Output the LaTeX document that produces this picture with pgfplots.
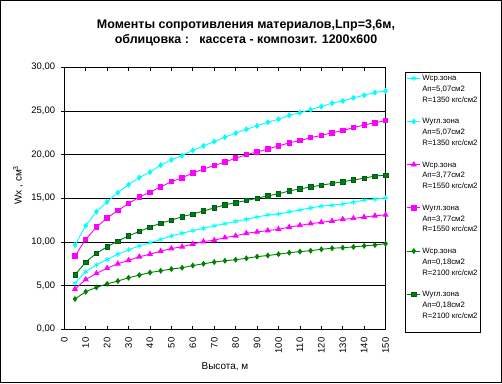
\documentclass[border=0pt]{standalone}
\usepackage{pgfplots}
\pgfplotsset{compat=1.18}
\usepackage{fontspec}
\setmainfont{Liberation Sans}
\definecolor{xcyan}{RGB}{0,255,255}
\definecolor{xmag}{RGB}{255,0,255}
\definecolor{xgreen}{RGB}{0,128,0}
\definecolor{xdkgreen}{RGB}{0,90,40}
\newcommand{\extra}[1]{\addlegendimage{empty legend}\addlegendentry{#1}}
\begin{document}
\begin{tikzpicture}
\useasboundingbox (0,0) rectangle (502bp,384bp);
\draw[black, line width=0.8bp] (0.8bp,1.5bp) rectangle (501.2bp,383.2bp);
\node[align=center, font=\fontsize{12.5}{15.7}\selectfont\bfseries] at (246bp,351bp)
  {Моменты сопротивления материалов,Lпр=3,6м,\\облицовка :\ \ \ кассета - композит. 1200х600};
\begin{axis}[
  at={(64.3bp,54.7bp)}, anchor=south west,
  scale only axis, width=321.3bp, height=262bp,
  xmin=0, xmax=150, ymin=0, ymax=30,
  xtick={0,10,...,150}, ytick={0,5,...,30},
  tick align=inside, major tick length=3.5bp,
  y tick style={xshift=-3.5bp},
  tick style={black, line width=0.75bp},
  axis line style={black, line width=0.75bp},
  ymajorgrids, major grid style={black, line width=0.75bp},
  /pgf/number format/assume math mode=true,
  yticklabel={\pgfmathprintnumber[fixed, fixed zerofill, precision=2, use comma]{\tick}},
  ticklabel style={font=\fontsize{9.5}{11}\selectfont},
  yticklabel style={inner sep=0pt, xshift=-9bp},
  xticklabel style={inner sep=0pt, yshift=-8bp, rotate=90, anchor=east},
  xlabel={Высота, м},
  xlabel style={font=\fontsize{10}{12}\selectfont, at={(axis description cs:0.5,0)}, anchor=center, yshift=-37bp},
  ylabel={Wx , см\textsuperscript{3}},
  ylabel style={font=\fontsize{10}{12}\selectfont, at={(axis description cs:-0.144,0.55)}, anchor=center},
  legend style={at={(1.0604,0.982)}, anchor=north west, draw=black, line width=0.75bp, fill=white,
    font=\fontsize{7.8}{9}\selectfont, inner sep=1.5bp, cells={anchor=west},
    nodes={inner ysep=0pt, inner xsep=1.5bp, text height=6.8bp, text depth=2bp}, row sep=2bp},
  legend image code/.code={\draw[mark repeat=2,mark phase=2] plot coordinates {(0bp,0bp) (6.5bp,0bp) (13bp,0bp)};},
  every axis plot/.append style={line width=0.9bp},
]
% Wsr 5.07
\addplot[xcyan, mark=asterisk, mark size=2.6bp, mark options={line width=0.8bp}] coordinates {
(5,5.3)(10,6.6)(15,7.37)(20,8.0)(25,8.6)(30,9.1)(35,9.55)(40,9.9)(45,10.3)(50,10.7)
(55,11.0)(60,11.3)(65,11.55)(70,11.85)(75,12.1)(80,12.35)(85,12.6)(90,12.85)(95,13.1)(100,13.2)
(105,13.45)(110,13.65)(115,13.9)(120,14.1)(125,14.2)(130,14.35)(135,14.55)(140,14.8)(145,14.9)(150,15.05)};
\addlegendentry{Wср.зона}
\extra{Ап=5,07см2}
\extra{R=1350 кгс/см2}
\extra{~}
% Wugl 5.07
\addplot[xcyan, mark=diamond*, mark size=2.4bp] coordinates {
(5,9.65)(10,11.87)(15,13.47)(20,14.6)(25,15.65)(30,16.56)(35,17.37)(40,18.0)(45,18.8)(50,19.4)
(55,19.9)(60,20.5)(65,21.0)(70,21.5)(75,22.0)(80,22.45)(85,22.9)(90,23.3)(95,23.7)(100,24.05)
(105,24.5)(110,24.8)(115,25.15)(120,25.5)(125,25.9)(130,26.15)(135,26.5)(140,26.8)(145,27.1)(150,27.3)};
\addlegendentry{Wугл.зона}
\extra{Ап=5,07см2}
\extra{R=1350 кгс/см2}
\extra{~}
% Wsr 3.77
\addplot[xmag, mark=triangle*, mark size=2.7bp] coordinates {
(5,4.6)(10,5.7)(15,6.4)(20,7.0)(25,7.5)(30,7.9)(35,8.3)(40,8.6)(45,8.95)(50,9.25)
(55,9.45)(60,9.77)(65,10.05)(70,10.2)(75,10.5)(80,10.7)(85,11.0)(90,11.15)(95,11.3)(100,11.45)
(105,11.7)(110,11.9)(115,12.1)(120,12.25)(125,12.4)(130,12.6)(135,12.7)(140,12.85)(145,13.0)(150,13.1)};
\addlegendentry{Wср.зона}
\extra{Ап=3,77см2}
\extra{R=1550 кгс/см2}
\extra{~}
% Wugl 3.77
\addplot[xmag, mark=square*, mark size=2.2bp] coordinates {
(5,8.4)(10,10.3)(15,11.7)(20,12.75)(25,13.6)(30,14.4)(35,15.15)(40,15.7)(45,16.3)(50,16.9)
(55,17.35)(60,17.9)(65,18.35)(70,18.75)(75,19.15)(80,19.6)(85,20.0)(90,20.3)(95,20.65)(100,21.0)
(105,21.35)(110,21.6)(115,21.95)(120,22.2)(125,22.5)(130,22.75)(135,23.1)(140,23.4)(145,23.65)(150,23.9)};
\addlegendentry{Wугл.зона}
\extra{Ап=3,77см2}
\extra{R=1550 кгс/см2}
\extra{~}
% Wsr 0.18
\addplot[xgreen, mark=diamond*, mark size=2.3bp] coordinates {
(5,3.47)(10,4.3)(15,4.8)(20,5.2)(25,5.53)(30,5.9)(35,6.2)(40,6.5)(45,6.7)(50,6.9)
(55,7.05)(60,7.3)(65,7.5)(70,7.7)(75,7.85)(80,7.97)(85,8.13)(90,8.32)(95,8.45)(100,8.6)
(105,8.77)(110,8.9)(115,9.0)(120,9.16)(125,9.28)(130,9.35)(135,9.43)(140,9.55)(145,9.65)(150,9.8)};
\addlegendentry{Wср.зона}
\extra{Ап=0,18см2}
\extra{R=2100 кгс/см2}
\extra{~}
% Wugl 0.18
\addplot[xgreen, mark=square*, mark size=2.2bp, mark options={draw=xdkgreen, fill=xgreen, line width=0.6bp}] coordinates {
(5,6.25)(10,7.7)(15,8.7)(20,9.45)(25,10.1)(30,10.7)(35,11.2)(40,11.7)(45,12.15)(50,12.5)
(55,12.9)(60,13.2)(65,13.55)(70,13.9)(75,14.25)(80,14.5)(85,14.75)(90,15.0)(95,15.3)(100,15.5)
(105,15.85)(110,16.07)(115,16.3)(120,16.5)(125,16.7)(130,16.9)(135,17.1)(140,17.3)(145,17.55)(150,17.65)};
\addlegendentry{Wугл.зона}
\extra{Ап=0,18см2}
\extra{R=2100 кгс/см2}
\extra{~}
\end{axis}
\end{tikzpicture}
\end{document}
